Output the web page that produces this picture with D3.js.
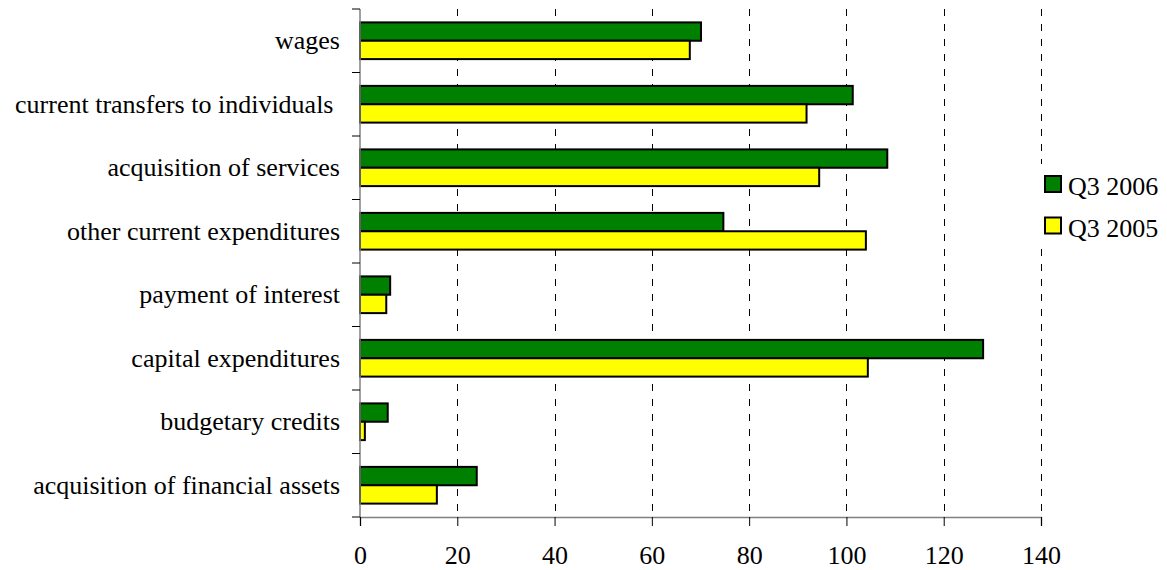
<!DOCTYPE html>
<html>
<head>
<meta charset="utf-8">
<script src="https://cdn.jsdelivr.net/npm/d3@7"></script>
<style>
  html, body { margin: 0; padding: 0; background: #fff; }
  svg text { font-family: "Liberation Serif", "Times New Roman", Times, serif; }
  .axis text { white-space: pre; }
</style>
</head>
<body>
<div id="chart"></div>
<script>
const categories = [
  "wages",
  "current transfers to individuals ",
  "acquisition of services",
  "other current expenditures",
  "payment of interest",
  "capital expenditures",
  "budgetary credits",
  "acquisition of financial assets",
];
const seriesNames = ["Q3 2006", "Q3 2005"];
const seriesColors = ["#008000", "#ffff00"];
const q3_2006 = [70.1, 101.3, 108.4, 74.7, 6.2, 128.1, 5.7, 24.0];
const q3_2005 = [67.8, 91.8, 94.4, 104.0, 5.4, 104.4, 1.0, 15.8];
const xTicks = [0, 20, 40, 60, 80, 100, 120, 140];

const width = 1167;
const height = 570;
const margin = { top: 9, right: 126, bottom: 53, left: 360 };
const fontSize = 26;

const rows = categories.map((c, i) => ({
  category: c,
  values: [q3_2006[i], q3_2005[i]],
}));

const x = d3
  .scaleLinear()
  .domain([0, 140])
  .range([margin.left, width - margin.right]);
const y = d3
  .scaleBand()
  .domain(categories)
  .range([margin.top, height - margin.bottom]);
const ySub = d3
  .scaleBand()
  .domain(seriesNames)
  .range([0, y.bandwidth()])
  .paddingInner(0)
  .paddingOuter(0.73);

const svg = d3
  .select("#chart")
  .append("svg")
  .attr("width", width)
  .attr("height", height)
  .attr("viewBox", [0, 0, width, height]);

// dashed vertical gridlines
svg
  .append("g")
  .selectAll("line")
  .data(xTicks.filter((d) => d > 0))
  .join("line")
  .attr("x1", (d) => Math.round(x(d)) + 0.5)
  .attr("x2", (d) => Math.round(x(d)) + 0.5)
  .attr("y1", margin.top)
  .attr("y2", height - margin.bottom)
  .attr("stroke", "#000")
  .attr("stroke-dasharray", "7,8");

// bars
const gRow = svg
  .append("g")
  .selectAll("g")
  .data(rows)
  .join("g")
  .attr("transform", (d) => `translate(0,${y(d.category)})`);

gRow
  .selectAll("rect")
  .data((d) => d.values.map((v, i) => ({ name: seriesNames[i], value: v, i })))
  .join("rect")
  .attr("x", x(0))
  .attr("y", (d) => ySub(d.name))
  .attr("width", (d) => x(d.value) - x(0))
  .attr("height", ySub.bandwidth())
  .attr("fill", (d) => seriesColors[d.i])
  .attr("stroke", "#000")
  .attr("stroke-width", 2);

// x axis
svg
  .append("g")
  .attr("class", "axis")
  .attr("transform", `translate(0,${height - margin.bottom})`)
  .call(d3.axisBottom(x).tickValues(xTicks).tickSize(9).tickPadding(20))
  .call((g) => g.attr("font-family", null).attr("font-size", fontSize))
  .call((g) => g.select(".domain").attr("stroke", "#808080").attr("stroke-width", 1.5))
  .call((g) => g.selectAll(".tick line").attr("stroke", "#000"))
  .call((g) => g.selectAll(".tick text").attr("fill", "#000"));

// y axis labels
svg
  .append("g")
  .attr("class", "axis")
  .attr("transform", `translate(${margin.left},0)`)
  .call(d3.axisLeft(y).tickSize(0).tickPadding(20))
  .call((g) => g.attr("font-family", null).attr("font-size", fontSize))
  .call((g) => g.select(".domain").remove())
  .call((g) => g.selectAll(".tick text").attr("fill", "#000"));

// y axis line and category boundary ticks
const gY = svg.append("g");
gY.append("line")
  .attr("x1", margin.left)
  .attr("x2", margin.left)
  .attr("y1", margin.top)
  .attr("y2", height - margin.bottom)
  .attr("stroke", "#808080")
  .attr("stroke-width", 1.5);
gY.selectAll(".btick")
  .data([...categories.map((c) => y(c)), height - margin.bottom])
  .join("line")
  .attr("class", "btick")
  .attr("x1", margin.left - 8)
  .attr("x2", margin.left)
  .attr("y1", (d) => d)
  .attr("y2", (d) => d)
  .attr("stroke", "#000");

// legend
const legend = svg.append("g");
legend
  .append("rect")
  .attr("x", 1036)
  .attr("y", 164)
  .attr("width", 131)
  .attr("height", 82)
  .attr("fill", "#fff");
const item = legend
  .selectAll("g")
  .data(seriesNames)
  .join("g")
  .attr("transform", (d, i) => `translate(1045,${176 + i * 41.5})`);
item
  .append("rect")
  .attr("width", 16)
  .attr("height", 16)
  .attr("fill", (d, i) => seriesColors[i])
  .attr("stroke", "#000")
  .attr("stroke-width", 2);
item
  .append("text")
  .attr("x", 23)
  .attr("y", 19)
  .attr("font-size", fontSize)
  .attr("fill", "#000")
  .text((d) => d);
</script>
</body>
</html>
